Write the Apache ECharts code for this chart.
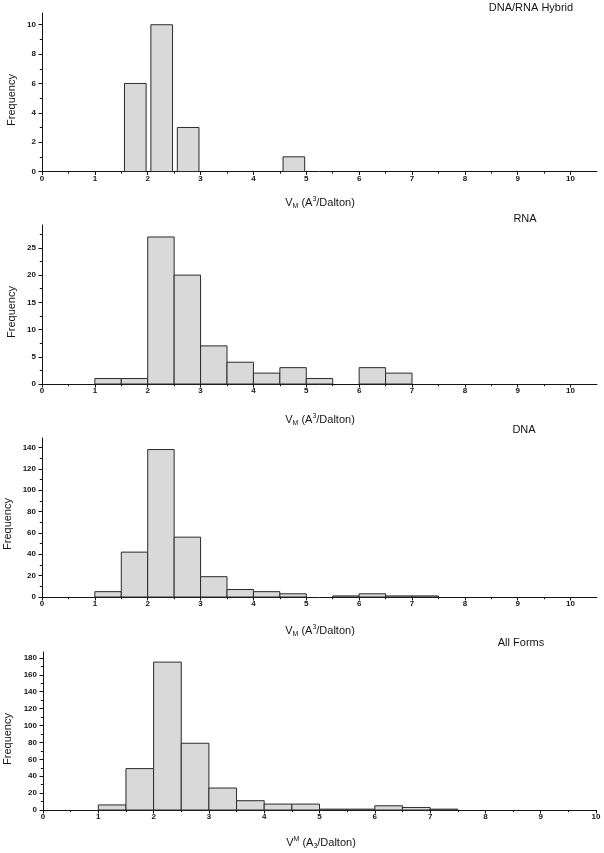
<!DOCTYPE html>
<html>
<head>
<meta charset="utf-8">
<script src="https://cdn.jsdelivr.net/npm/echarts@6/dist/echarts.min.js"></script>
<style>html,body{margin:0;padding:0;background:#fff}#c{width:604px;height:853px}</style>
</head>
<body>
<div id="c"></div>
<script>
// ---- data ----
const xMajorTicks = [0, 1, 2, 3, 4, 5, 6, 7, 8, 9, 10];
const xMinorTicks = [0.5, 1.5, 2.5, 3.5, 4.5, 5.5, 6.5, 7.5, 8.5, 9.5];

const hybridBinStarts = [1.5, 2.0, 2.5, 4.5];
const hybridCounts = [6, 10, 3, 1];

const binStarts = [1.0, 1.5, 2.0, 2.5, 3.0, 3.5, 4.0, 4.5, 5.0, 5.5, 6.0, 6.5, 7.0];
const rnaCounts = [1, 1, 27, 20, 7, 4, 2, 3, 1, 0, 3, 2, 0];
const dnaCounts = [5, 42, 138, 56, 19, 7, 5, 3, 0, 1, 3, 1, 1];
const allCounts = [6, 49, 175, 79, 26, 11, 7, 7, 1, 1, 5, 3, 1];
const binWidth = 0.5;

const hybridYTicks = [0, 2, 4, 6, 8, 10];
const hybridYMinor = [1, 3, 5, 7, 9];
const rnaYTicks = [0, 5, 10, 15, 20, 25];
const rnaYMinor = [2.5, 7.5, 12.5, 17.5, 22.5, 27.5];
const dnaYTicks = [0, 20, 40, 60, 80, 100, 120, 140];
const dnaYMinor = [10, 30, 50, 70, 90, 110, 130];
const allYTicks = [0, 20, 40, 60, 80, 100, 120, 140, 160, 180];
const allYMinor = [10, 30, 50, 70, 90, 110, 130, 150, 170];

const panelTitles = ['DNA/RNA Hybrid', 'RNA', 'DNA', 'All Forms'];

// ---- layout / style ----
const FONT = 'Liberation Sans, Arial, sans-serif';
const INK = '#151515';
const panels = [
  {starts: hybridBinStarts, counts: hybridCounts, inset: [0.06, 0.03], yTicks: hybridYTicks, yMinor: hybridYMinor,
   xMax: 10.5, yMax: 10.8, left: 42, width: 555, top: 13, height: 158.5,
   title: [531, 8], freq: [12, 100], xname: [320, 203], alt: false},
  {starts: binStarts, counts: rnaCounts, inset: [0, 0], yTicks: rnaYTicks, yMinor: rnaYMinor,
   xMax: 10.5, yMax: 29.2, left: 42, width: 555, top: 225, height: 159,
   title: [525, 219], freq: [12, 312], xname: [320, 420], alt: false},
  {starts: binStarts, counts: dnaCounts, inset: [0, 0], yTicks: dnaYTicks, yMinor: dnaYMinor,
   xMax: 10.5, yMax: 148.8, left: 42, width: 555, top: 438, height: 159,
   title: [524, 430], freq: [8, 524], xname: [320, 631], alt: false},
  {starts: binStarts, counts: allCounts, inset: [0, 0], yTicks: allYTicks, yMinor: allYMinor,
   xMax: 10, yMax: 187, left: 43, width: 553, top: 652, height: 158,
   title: [521, 643], freq: [8, 739], xname: [321, 843], alt: true}
];

const lineStyle = {color: INK, width: 1};
const grid = [], xAxis = [], yAxis = [], series = [], graphic = [];

const rich = {
  b: {fontSize: 11, fontFamily: FONT, color: INK, lineHeight: 14, verticalAlign: 'middle'},
  sup: {fontSize: 7, fontFamily: FONT, color: INK, lineHeight: 8, verticalAlign: 'top'},
  sub: {fontSize: 7, fontFamily: FONT, color: INK, lineHeight: 8, verticalAlign: 'bottom'}
};

panels.forEach((p, i) => {
  grid.push({left: p.left, top: p.top, width: p.width, height: p.height, containLabel: false});
  // main x axis
  xAxis.push({
    gridIndex: i, type: 'value', position: 'bottom', min: 0, max: p.xMax,
    axisLine: {show: true, onZero: false, lineStyle},
    axisTick: {show: true, length: 3.5, customValues: xMajorTicks, lineStyle},
    axisLabel: {customValues: xMajorTicks, fontSize: 8, fontWeight: 'bold', fontFamily: FONT, color: INK, margin: 3},
    splitLine: {show: false}
  });
  // minor x ticks
  xAxis.push({
    gridIndex: i, type: 'value', position: 'bottom', min: 0, max: p.xMax,
    axisLine: {show: false},
    axisTick: {show: true, length: 2.2, customValues: xMinorTicks, lineStyle},
    axisLabel: {show: false}, splitLine: {show: false}
  });
  yAxis.push({
    gridIndex: i, type: 'value', position: 'left', min: 0, max: p.yMax,
    axisLine: {show: true, onZero: false, lineStyle},
    axisTick: {show: true, length: 3.5, customValues: p.yTicks, lineStyle},
    axisLabel: {customValues: p.yTicks, fontSize: 8, fontWeight: 'bold', fontFamily: FONT, color: INK, margin: 6},
    splitLine: {show: false}
  });
  yAxis.push({
    gridIndex: i, type: 'value', position: 'left', min: 0, max: p.yMax,
    axisLine: {show: false},
    axisTick: {show: true, length: 2.2, customValues: p.yMinor, lineStyle},
    axisLabel: {show: false}, splitLine: {show: false}
  });

  const data = [];
  p.starts.forEach((s, k) => {
    if (p.counts[k] > 0) data.push([s + p.inset[0], s + binWidth - p.inset[1], p.counts[k]]);
  });
  series.push({
    type: 'custom', xAxisIndex: 2 * i, yAxisIndex: 2 * i, data,
    encode: {x: [0, 1], y: 2},
    renderItem: function (params, api) {
      const a = api.coord([api.value(0), api.value(2)]);
      const b = api.coord([api.value(1), 0]);
      return {
        type: 'rect',
        shape: {x: a[0], y: a[1], width: b[0] - a[0], height: b[1] - a[1]},
        style: {fill: '#d9d9d9', stroke: '#2a2a2a', lineWidth: 1}
      };
    },
    silent: true, z: 1
  });

  graphic.push({
    type: 'text', x: p.title[0], y: p.title[1],
    style: {text: panelTitles[i], font: '11px ' + FONT, fill: INK, align: 'center', verticalAlign: 'middle'}
  });
  graphic.push({
    type: 'text', x: p.freq[0], y: p.freq[1], rotation: Math.PI / 2,
    style: {text: 'Frequency', font: '11px ' + FONT, fill: INK, align: 'center', verticalAlign: 'middle'}
  });
  const xname = p.alt
    ? '{b|V}{sup|M}{b| (A}{sub|3}{b|/Dalton)}'
    : '{b|V}{sub|M}{b| (A}{sup|3}{b|/Dalton)}';
  graphic.push({
    type: 'text', x: p.xname[0], y: p.xname[1],
    style: {text: xname, rich, font: '11px ' + FONT, fill: INK, align: 'center', verticalAlign: 'middle'}
  });
});

const chart = echarts.init(document.getElementById('c'), null, {renderer: 'canvas'});
chart.setOption({
  animation: false,
  backgroundColor: '#ffffff',
  grid, xAxis, yAxis, series, graphic
});
</script>
</body>
</html>
